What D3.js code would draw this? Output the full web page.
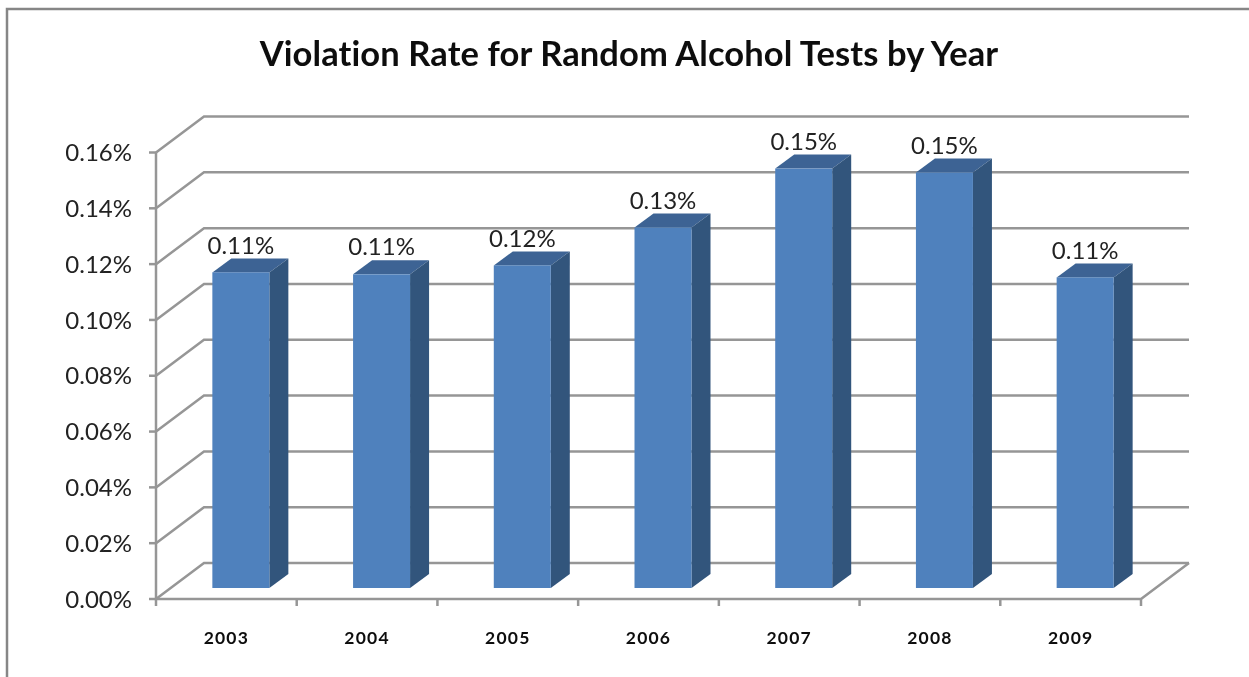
<!DOCTYPE html>
<html><head><meta charset="utf-8">
<style>html,body{margin:0;padding:0;background:#fff;overflow:hidden}svg{display:block}text{font-family:Lato,"Open Sans",sans-serif;font-variant-ligatures:none}</style>
<script src="https://cdn.jsdelivr.net/npm/d3@7/dist/d3.min.js"></script>
</head><body><script>
const years = ["2003","2004","2005","2006","2007","2008","2009"];
const rates = [0.1131,0.1124,0.1156,0.1292,0.1503,0.1489,0.1113];
const rateLabels = ["0.11%","0.11%","0.12%","0.13%","0.15%","0.15%","0.11%"];
const yTicks = [0,0.02,0.04,0.06,0.08,0.10,0.12,0.14,0.16];
const titleText = "Violation Rate for Random Alcohol Tests by Year";

const W=1249,H=677;
const svg=d3.select("body").append("svg").attr("width",W).attr("height",H);
const defs=svg.append("defs");
defs.append("filter").attr("id","soft").append("feGaussianBlur").attr("stdDeviation",0.5);
const root=svg.append("g").attr("filter","url(#soft)");

const x=d3.scaleBand().domain(years).range([156,1141]);
const y=d3.scaleLinear().domain([0,0.16]).range([599,152.5]);
const dx=48,dy=-36;            // full floor depth
const gray="#969696";

// outer frame
root.append("path").attr("d",`M7,677V9H${W}`).attr("fill","none").attr("stroke","#868686").attr("stroke-width",2.5);

// title
root.append("text").attr("x",629).attr("y",66).attr("text-anchor","middle")
  .attr("font-size",34.5).attr("font-weight",700).attr("letter-spacing",0.1).attr("fill","#111").text(titleText);

// back wall grid and side wall
const grid=root.append("g").attr("fill","none").attr("stroke",gray).attr("stroke-width",2.5);
grid.selectAll("path.g").data(yTicks).join("path").attr("class","g")
  .attr("d",d=>`M156,${y(d)}L${156+dx},${y(d)+dy}H${1141+dx}`);
// axes
grid.append("path").attr("d",`M156,${y(0.16)}V${y(0)}H1141L${1141+dx},${y(0)+dy}`);
grid.selectAll("line.yt").data(yTicks).join("line").attr("class","yt")
  .attr("x1",149).attr("x2",156).attr("y1",d=>y(d)).attr("y2",d=>y(d));
grid.selectAll("line.xt").data(d3.range(8)).join("line").attr("class","xt")
  .attr("x1",i=>156+i*x.step()).attr("x2",i=>156+i*x.step()).attr("y1",599).attr("y2",606);

// y labels
root.append("g").selectAll("text").data(yTicks).join("text")
  .attr("x",132).attr("y",d=>y(d)).attr("dy","0.36em").attr("text-anchor","end")
  .attr("font-size",24).attr("fill","#222").text(d=>d3.format(".2f")(d)+"%");

// x labels
root.append("g").selectAll("text").data(years).join("text")
  .attr("x",d=>x(d)+x.bandwidth()/2).attr("y",644).attr("text-anchor","middle")
  .attr("font-size",17.5).attr("font-weight",700).attr("letter-spacing",1.2).attr("fill","#111").text(d=>d);

// bars
const barW=57,offX=14.5,offY=-11,depX=19,depY=-14;
const bars=root.append("g").selectAll("g").data(years).join("g")
  .attr("transform",d=>`translate(${x(d)+x.bandwidth()/2+offX-barW/2},${offY})`);
const barTop=(i)=>y(rates[i]);
bars.append("path").attr("fill","#3C6494")
  .attr("d",(d,i)=>`M0,${barTop(i)}l${depX},${depY}h${barW}l${-depX},${-depY}z`);
bars.append("path").attr("fill","#31547C")
  .attr("d",(d,i)=>`M${barW},${barTop(i)}l${depX},${depY}V${y(0)+depY}l${-depX},${-depY}z`);
bars.append("rect").attr("fill","#4F81BD").attr("x",0).attr("width",barW)
  .attr("y",(d,i)=>barTop(i)).attr("height",(d,i)=>y(0)-barTop(i));
// value labels
bars.append("text").attr("x",barW/2).attr("y",(d,i)=>barTop(i)-27.5).attr("dy","0.36em")
  .attr("text-anchor","middle").attr("font-size",24).attr("fill","#222").text((d,i)=>rateLabels[i]);
</script></body></html>
